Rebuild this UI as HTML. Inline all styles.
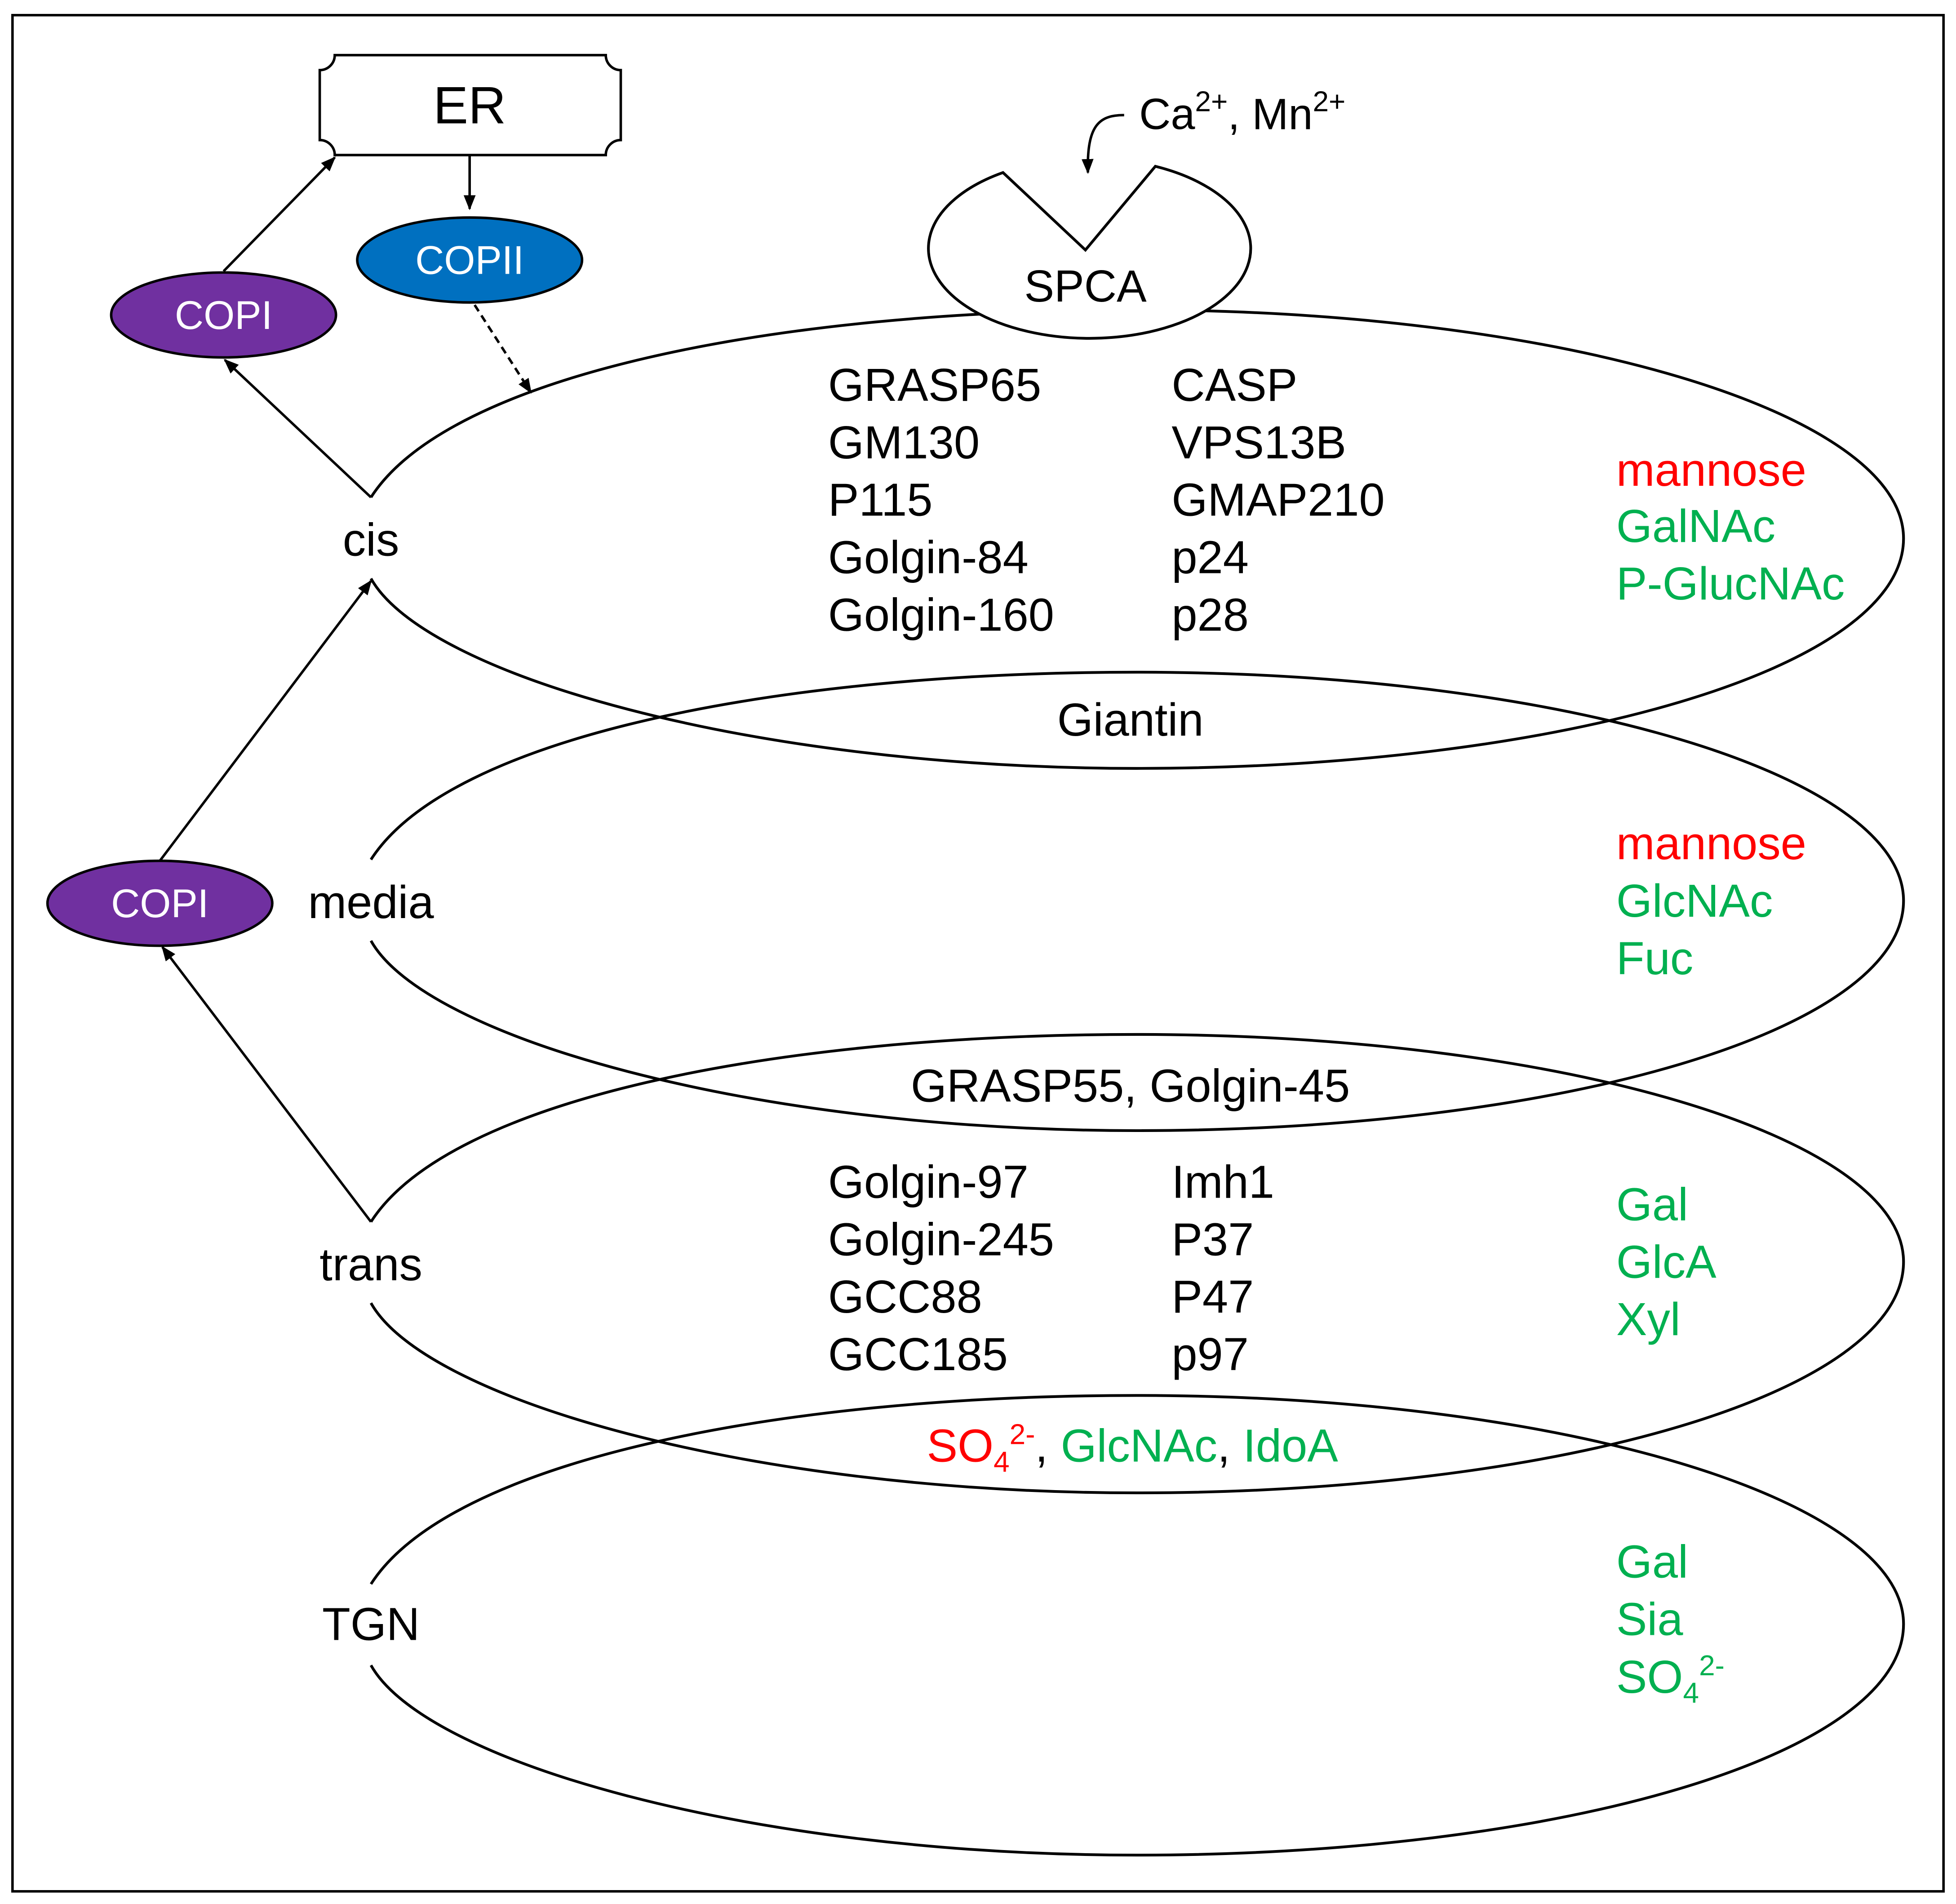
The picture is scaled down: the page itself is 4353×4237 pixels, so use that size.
<!DOCTYPE html>
<html><head><meta charset="utf-8">
<style>
html,body{margin:0;padding:0;background:#fff;}
svg{display:block;}
text{font-family:"Liberation Sans",Arial,sans-serif;}
</style></head>
<body>
<svg width="4353" height="4237" viewBox="0 0 1566 1524" xmlns="http://www.w3.org/2000/svg">
<defs>
<marker id="ah2" viewBox="0 0 10 10" refX="9" refY="5" markerWidth="12" markerHeight="12" orient="auto" markerUnits="userSpaceOnUse">
<path d="M0,1 L10,5 L0,9 z" fill="#000"/>
</marker>
</defs>
<rect x="10" y="12" width="1546" height="1502" fill="#fff" stroke="#000" stroke-width="2"/>

<g fill="none" stroke="#000" stroke-width="2.2">
<path d="M297,398 C360,300 620,248 910,248 C1250,248 1524,330 1524,431 C1524,535 1250,615 910,615 C600,615 340,540 297,463"/>
<path d="M297,688 C360,590 620,538 910,538 C1250,538 1524,620 1524,721 C1524,825 1250,905 910,905 C600,905 340,830 297,753"/>
<path d="M297,978 C360,880 620,828 910,828 C1250,828 1524,910 1524,1010 C1524,1115 1250,1195 910,1195 C600,1195 340,1120 297,1043"/>
<path d="M297,1268 C360,1170 620,1117 910,1117 C1250,1117 1524,1200 1524,1300 C1524,1405 1250,1485 910,1485 C600,1485 340,1410 297,1333"/>
</g>

<path d="M803,138 L869,200 L925,133 A129,72 0 1 1 803,138 Z" fill="#fff" stroke="#000" stroke-width="2.2"/>
<text x="869" y="229" font-size="36" text-anchor="middle" dominant-baseline="central">SPCA</text>
<path d="M900,92 C880,92 870,100 871,138" fill="none" stroke="#000" stroke-width="2" marker-end="url(#ah2)"/>
<text x="912" y="91" font-size="35" dominant-baseline="central">Ca<tspan font-size="23" dy="-10">2+</tspan><tspan dy="10">, Mn</tspan><tspan font-size="23" dy="-10">2+</tspan></text>

<path d="M268,44 L485,44 A12,12 0 0 0 497,56 L497,112 A12,12 0 0 0 485,124 L268,124 A12,12 0 0 0 256,112 L256,56 A12,12 0 0 0 268,44 Z" fill="#fff" stroke="#000" stroke-width="2"/>
<text x="376" y="84" font-size="42" text-anchor="middle" dominant-baseline="central">ER</text>

<g stroke="#000" stroke-width="2" fill="none">
<line x1="376" y1="124" x2="376" y2="167" marker-end="url(#ah2)"/>
<line x1="179" y1="217" x2="268" y2="126" marker-end="url(#ah2)"/>
<line x1="380" y1="244" x2="425" y2="314" stroke-dasharray="6,4" marker-end="url(#ah2)"/>
<line x1="297" y1="398" x2="180" y2="288" marker-end="url(#ah2)"/>
<line x1="128" y1="689" x2="297" y2="465" marker-end="url(#ah2)"/>
<line x1="297" y1="978" x2="130" y2="758" marker-end="url(#ah2)"/>
</g>

<ellipse cx="376" cy="208" rx="90" ry="34" fill="#0070c0" stroke="#000" stroke-width="2"/>
<text x="376" y="208" font-size="32" fill="#fff" text-anchor="middle" dominant-baseline="central">COPII</text>
<ellipse cx="179" cy="252" rx="90" ry="34" fill="#7030a0" stroke="#000" stroke-width="2"/>
<text x="179" y="252" font-size="32" fill="#fff" text-anchor="middle" dominant-baseline="central">COPI</text>
<ellipse cx="128" cy="723" rx="90" ry="34" fill="#7030a0" stroke="#000" stroke-width="2"/>
<text x="128" y="723" font-size="32" fill="#fff" text-anchor="middle" dominant-baseline="central">COPI</text>

<g font-size="37" text-anchor="middle" dominant-baseline="central">
<text x="297" y="432">cis</text>
<text x="297" y="722">media</text>
<text x="297" y="1012">trans</text>
<text x="297" y="1300">TGN</text>
<text x="905" y="576">Giantin</text>
<text x="905" y="869">GRASP55, Golgin-45</text>
</g>

<g font-size="37" dominant-baseline="central">
<text x="663" y="308">GRASP65</text>
<text x="663" y="354">GM130</text>
<text x="663" y="400">P115</text>
<text x="663" y="446">Golgin-84</text>
<text x="663" y="492">Golgin-160</text>
<text x="938" y="308">CASP</text>
<text x="938" y="354">VPS13B</text>
<text x="938" y="400">GMAP210</text>
<text x="938" y="446">p24</text>
<text x="938" y="492">p28</text>

<text x="663" y="946">Golgin-97</text>
<text x="663" y="992">Golgin-245</text>
<text x="663" y="1038">GCC88</text>
<text x="663" y="1084">GCC185</text>
<text x="938" y="946">Imh1</text>
<text x="938" y="992">P37</text>
<text x="938" y="1038">P47</text>
<text x="938" y="1084">p97</text>

<text x="1294" y="376" fill="#ff0000">mannose</text>
<text x="1294" y="421" fill="#00b050">GalNAc</text>
<text x="1294" y="467" fill="#00b050">P-GlucNAc</text>
<text x="1294" y="675" fill="#ff0000">mannose</text>
<text x="1294" y="721" fill="#00b050">GlcNAc</text>
<text x="1294" y="767" fill="#00b050">Fuc</text>
<text x="1294" y="964" fill="#00b050">Gal</text>
<text x="1294" y="1010" fill="#00b050">GlcA</text>
<text x="1294" y="1056" fill="#00b050">Xyl</text>
<text x="1294" y="1250" fill="#00b050">Gal</text>
<text x="1294" y="1296" fill="#00b050">Sia</text>
</g>
<text x="1294" y="1355" font-size="37" fill="#00b050">SO<tspan font-size="23" dy="8">4</tspan><tspan font-size="23" dy="-22">2-</tspan></text>
<text x="742" y="1170" font-size="37"><tspan fill="#ff0000">SO</tspan><tspan fill="#ff0000" font-size="23" dy="8">4</tspan><tspan fill="#ff0000" font-size="23" dy="-22">2-</tspan><tspan dy="14" fill="#000">, </tspan><tspan fill="#00b050">GlcNAc</tspan><tspan fill="#000">, </tspan><tspan fill="#00b050">IdoA</tspan></text>
</svg>
</body></html>
